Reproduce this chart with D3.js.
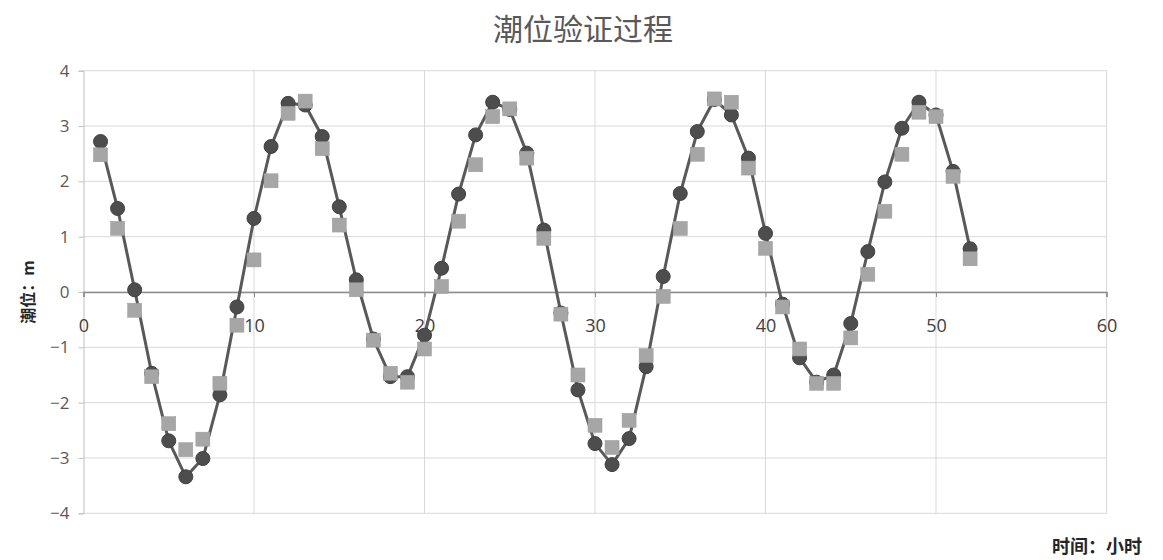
<!DOCTYPE html>
<html><head><meta charset="utf-8">
<script src="https://cdn.jsdelivr.net/npm/d3@7"></script>
<style>body{margin:0;background:#fff;} svg{display:block;}</style>
</head><body>
<svg id="chart" width="1163" height="560"></svg>
<script>
const titleText = "潮位验证过程";
const yLabel = "潮位：m";
const xLabel = "时间：小时";
const hours = d3.range(1, 53);
const measured = [2.72,1.51,0.04,-1.47,-2.69,-3.34,-3.01,-1.86,-0.27,1.33,2.63,3.41,3.38,2.81,1.54,0.22,-0.85,-1.53,-1.53,-0.78,0.43,1.77,2.84,3.43,3.30,2.51,1.12,-0.38,-1.77,-2.74,-3.12,-2.65,-1.35,0.28,1.78,2.90,3.48,3.20,2.42,1.06,-0.22,-1.19,-1.63,-1.50,-0.57,0.73,1.99,2.96,3.43,3.20,2.18,0.78];
const computed = [2.48,1.15,-0.33,-1.53,-2.38,-2.85,-2.66,-1.65,-0.60,0.58,2.01,3.23,3.45,2.59,1.21,0.04,-0.87,-1.47,-1.63,-1.03,0.10,1.28,2.30,3.17,3.31,2.42,0.97,-0.40,-1.50,-2.41,-2.81,-2.32,-1.15,-0.08,1.15,2.49,3.49,3.43,2.24,0.79,-0.27,-1.03,-1.65,-1.65,-0.83,0.32,1.46,2.49,3.25,3.17,2.09,0.60];
const xTicks = [0,10,20,30,40,50,60];
const yTicks = [-4,-3,-2,-1,0,1,2,3,4];

const svg = d3.select("#chart");
const x = d3.scaleLinear().domain([0,60]).range([83.5,1106.5]);
const y = d3.scaleLinear().domain([-4,4]).range([513.3,70.7]);

// gridlines
svg.append("g").selectAll("line.h").data(yTicks).join("line")
  .attr("x1", x(0)).attr("x2", x(60)).attr("y1", d=>y(d)).attr("y2", d=>y(d))
  .attr("stroke", "#d9d9d9").attr("stroke-width", 1);
svg.append("g").selectAll("line.v").data(xTicks.filter(d=>d>0)).join("line")
  .attr("x1", d=>x(d)).attr("x2", d=>x(d)).attr("y1", y(4)).attr("y2", y(-4))
  .attr("stroke", "#d9d9d9").attr("stroke-width", 1);

// y axis
const yAxis = svg.append("g").attr("transform", `translate(${x(0)},0)`)
  .call(d3.axisLeft(y).tickValues(yTicks).tickSize(5).tickPadding(9));
yAxis.select(".domain").attr("stroke", "#bfbfbf");
yAxis.selectAll(".tick line").attr("stroke", "#bfbfbf");
yAxis.selectAll("text").attr("fill", "#595959").style("font-size", "17px").style("font-family", "Open Sans, Liberation Sans, sans-serif");

// x axis at y=0
const xAxis = svg.append("g").attr("transform", `translate(0,${y(0)})`)
  .call(d3.axisBottom(x).tickValues(xTicks).tickSize(5).tickPadding(22));
xAxis.select(".domain").attr("stroke", "#8c8c8c").attr("stroke-width", 1.5);
xAxis.selectAll(".tick line").attr("stroke", "#8c8c8c");
xAxis.selectAll("text").attr("fill", "#404040").style("font-size", "18px").style("font-family", "Open Sans, Liberation Sans, sans-serif");

// series 1 line
const line = d3.line().x((d,i)=>x(hours[i])).y(d=>y(d));
svg.append("path").datum(measured).attr("d", line)
  .attr("fill", "none").attr("stroke", "#595959").attr("stroke-width", 3).attr("stroke-linejoin", "round");
svg.append("g").selectAll("circle").data(measured).join("circle")
  .attr("cx", (d,i)=>x(hours[i])).attr("cy", d=>y(d)).attr("r", 7)
  .attr("fill", "#4d4d4d").attr("stroke", "#404040").attr("stroke-width", 1);

// series 2 squares
const s = 14;
svg.append("g").selectAll("rect").data(computed).join("rect")
  .attr("x", (d,i)=>x(hours[i]) - s/2).attr("y", d=>y(d) - s/2)
  .attr("width", s).attr("height", s)
  .attr("fill", "#a6a6a6").attr("stroke", "#9a9a9a").attr("stroke-width", 0.5);

// title
svg.append("text").attr("x", 583).attr("y", 40).attr("text-anchor", "middle")
  .attr("fill", "#595959").style("font-size", "30px")
  .style("font-family", "Noto Sans CJK SC, sans-serif").text(titleText);

// y label
svg.append("text").attr("transform", `translate(34,${y(0)}) rotate(-90)`)
  .attr("text-anchor", "middle").attr("fill", "#262626").style("font-size", "16px").style("font-weight", "bold")
  .style("font-family", "Noto Sans CJK SC, sans-serif").text(yLabel);

// x label
svg.append("text").attr("x", 1142).attr("y", 553).attr("text-anchor", "end")
  .attr("fill", "#262626").style("font-size", "18px").style("font-weight", "bold")
  .style("font-family", "Noto Sans CJK SC, sans-serif").text(xLabel);
</script>
</body></html>
